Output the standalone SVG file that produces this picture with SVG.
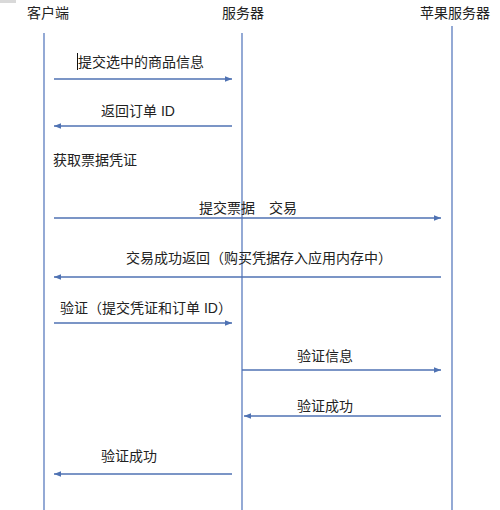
<svg xmlns="http://www.w3.org/2000/svg" width="500" height="510" viewBox="0 0 500 510">
<style>
text{font-family:"Liberation Sans","Noto Sans CJK SC",sans-serif;font-size:14px;fill:#222}
.life{stroke:#5a7cbf;stroke-width:1.3;fill:none}
.msg{stroke:#4f72b3;stroke-width:1.3;fill:none}
</style>
<defs>
<marker id="ah" viewBox="0 0 10 10" refX="10" refY="5" markerWidth="7" markerHeight="7" markerUnits="userSpaceOnUse" orient="auto-start-reverse">
<path d="M0,1 L10,5 L0,9 Z" fill="#4f72b3"/>
</marker>
</defs>
<rect x="0" y="0" width="16" height="3" fill="#d9d9d9"/>
<g id="client"><text x="48" y="18" text-anchor="middle">客户端</text><line class="life" x1="44" y1="33" x2="44" y2="510"/></g>
<g id="server"><text x="243" y="18" text-anchor="middle">服务器</text><line class="life" x1="242" y1="33" x2="242" y2="510"/></g>
<g id="apple"><text x="455" y="18" text-anchor="middle">苹果服务器</text><line class="life" x1="452" y1="26" x2="452" y2="510"/></g>
<g id="note"><text x="53" y="165">获取票据凭证</text></g>
<g id="connectors">
<line class="msg" x1="54" y1="79" x2="232" y2="79" marker-end="url(#ah)"/>
<line class="msg" x1="232" y1="126" x2="54" y2="126" marker-end="url(#ah)"/>
<line class="msg" x1="54" y1="218" x2="441" y2="218" marker-end="url(#ah)"/>
<line class="msg" x1="441" y1="277" x2="54" y2="277" marker-end="url(#ah)"/>
<line class="msg" x1="54" y1="323" x2="232" y2="323" marker-end="url(#ah)"/>
<line class="msg" x1="242" y1="370" x2="441" y2="370" marker-end="url(#ah)"/>
<line class="msg" x1="441" y1="416" x2="244" y2="416" marker-end="url(#ah)"/>
<line class="msg" x1="232" y1="474" x2="54" y2="474" marker-end="url(#ah)"/>
</g>
<g id="labels">
<line x1="77.5" y1="53" x2="77.5" y2="70" stroke="#111" stroke-width="1"/>
<text x="78" y="67">提交选中的商品信息</text>
<text x="101" y="116">返回订单 ID</text>
<text x="199" y="213" xml:space="preserve">提交票据　交易</text>
<text x="126" y="263">交易成功返回（购买凭据存入应用内存中）</text>
<text x="60" y="313">验证（提交凭证和订单 ID）</text>
<text x="297" y="361">验证信息</text>
<text x="297" y="411">验证成功</text>
<text x="101" y="461">验证成功</text>
</g>
</svg>
